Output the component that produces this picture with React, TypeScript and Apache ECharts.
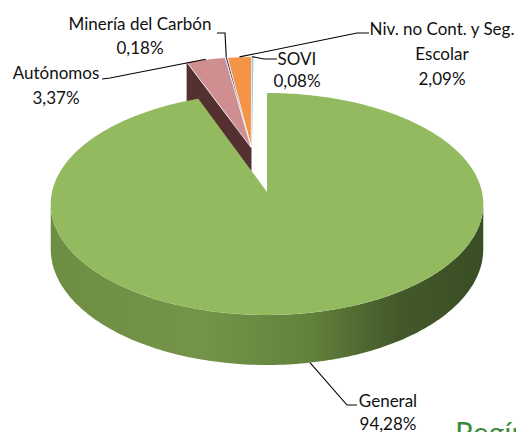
import React, { useEffect, useRef } from "react";
import * as echarts from "echarts";

// ---- data ----
const categories = ["General", "Autónomos", "Minería del Carbón", "Niv. no Cont. y Seg.\nEscolar", "SOVI"];
const values = [94.28, 3.37, 0.18, 2.09, 0.08];

// ---- styling / layout (not data) ----
const topColors = ["#93ba5f", "#cf8e8f", "#26265e", "#f39446", "#e4f1f7"];
const wallColors = ["#6e8e44", "#553030", "#151540", "#b86a2c", "#9cc7da"];
const edgeColors = ["none", "#ffffff", "#ffffff", "#ffffff", "#8cc4dc"];
const explode = [0, 0.43, 0.43, 0.43, 0.43];
const drawOrder = [10, 4, 3, 2, 1];
const labelPos = [[388, 400], [56, 72], [140, 23], [442, 28], [297, 58]];
const lineGap = [23, 25, 24, 25, 22];
const leaderStart = [[357, 405], [102, 79], [217, 33], [369, 33], [277, 59]];
const leaderKnee = [[347, 405], [110, 78], [225, 33], [357, 33], [264, 59]];

const CX = 267, CY = 192, RX = 215, RY = 109.7, P = 0.108, H = 44.6;
const FONT = "Lato";

const total = values.reduce((a, b) => a + b, 0);
const starts: number[] = [];
let acc = 0;
values.forEach((v) => { starts.push((acc / total) * 360); acc += v; });
const ends = values.map((v, i) => starts[i] + (v / total) * 360);

// common explode direction: middle of the exploded group
const exIdx = values.map((_, i) => i).filter((i) => explode[i] > 0);
const groupMid = exIdx.length ? (starts[exIdx[0]] + ends[exIdx[exIdx.length - 1]]) / 2 : 0;

const rad = (d: number) => (d * Math.PI) / 180;
function proj(X: number, Z: number, drop: number) {
  const w = 1 + P * Z;
  return [CX + (RX * X) / w, CY - (RY * Z) / w + drop / w];
}
function fmt(v: number) {
  return v.toFixed(2).replace(".", ",") + "%";
}

export default function App() {
  const ref = useRef<HTMLDivElement>(null);
  useEffect(() => {
    if (!ref.current) return;
    const chart = echarts.init(ref.current, undefined, { renderer: "svg" });

    const renderItem = (params: any, api: any) => {
      const i = params.dataIndex;
      const a0 = starts[i], a1 = ends[i];
      const ox = explode[i] * Math.sin(rad(groupMid));
      const oz = explode[i] * Math.cos(rad(groupMid));
      const pt = (deg: number, drop: number, r = 1) =>
        proj(ox + r * Math.sin(rad(deg)), oz + r * Math.cos(rad(deg)), drop);
      const arc = (from: number, to: number, drop: number) => {
        const n = Math.max(2, Math.ceil((to - from) / 1) + 1);
        const out: number[][] = [];
        for (let k = 0; k < n; k++) out.push(pt(from + ((to - from) * k) / (n - 1), drop));
        return out;
      };
      const base = drawOrder[i] * 10;
      const children: any[] = [];

      // outer wall (front, visible part)
      const vLo = (Math.acos(-P) * 180) / Math.PI;
      const vHi = 360 - vLo;
      const lo = Math.max(a0, vLo), hi = Math.min(a1, vHi);
      if (hi > lo) {
        const topPts = arc(lo, hi, 0);
        const botPts = arc(lo, hi, H).reverse();
        children.push({
          type: "polygon",
          z2: base + 1,
          shape: { points: topPts.concat(botPts) },
          style: {
            fill: i === 0
              ? new echarts.graphic.LinearGradient(0, 0, 1, 0, [
                  { offset: 0, color: "#6e8e44" },
                  { offset: 0.35, color: "#74944a" },
                  { offset: 0.6, color: "#62813c" },
                  { offset: 0.8, color: "#43592a" },
                  { offset: 1, color: "#3a4d24" },
                ])
              : wallColors[i],
          },
        });
      }
      // start radial wall (faces viewer for the back slices)
      if (explode[i] > 0) {
        const c0 = pt(0, 0, 0), c1 = pt(0, H, 0);
        const e0 = pt(a0, 0), e1 = pt(a0, H);
        children.push({
          type: "polygon",
          z2: base + 2,
          shape: { points: [c0, e0, e1, c1] },
          style: { fill: wallColors[i] },
        });
      }
      // top face
      const face = [pt(0, 0, 0)].concat(arc(a0, a1, 0));
      children.push({
        type: "polygon",
        z2: base + 3,
        shape: { points: face },
        style: {
          fill: topColors[i],
          stroke: edgeColors[i],
          lineWidth: i === 0 ? 0 : i === 4 ? 1.5 : 0.8,
        },
      });

      // label + leader
      const v = api.value(0);
      const mid = (a0 + a1) / 2;
      const anchor = i === 0 ? pt(mid, H) : pt(mid, 0);
      children.push({
        type: "polyline",
        z2: 200,
        shape: { points: [leaderStart[i], leaderKnee[i], anchor] },
        style: { stroke: "#000", lineWidth: 1.1, fill: "none" },
      });
      const lines = categories[i].split("\n").concat([fmt(v)]);
      lines.forEach((t, k) => {
        children.push({
          type: "text",
          z2: 201,
          style: {
            text: t,
            x: labelPos[i][0],
            y: labelPos[i][1] + k * lineGap[i],
            fill: "#111111",
            fontSize: 17,
            fontFamily: FONT,
            align: "center",
            verticalAlign: "middle",
            textAlign: "center",
            textVerticalAlign: "middle",
          },
        });
      });
      return { type: "group", children };
    };

    chart.setOption({
      animation: false,
      backgroundColor: "#ffffff",
      graphic: [
        {
          type: "text",
          left: 455,
          top: 417,
          style: { text: "Regímenes", fill: "#3c8c3c", fontSize: 30, fontFamily: FONT },
        },
      ],
      series: [
        {
          type: "custom",
          coordinateSystem: "none",
          renderItem,
          data: values.map((v, i) => ({ name: categories[i], value: [v] })),
        },
      ],
    });
    return () => chart.dispose();
  }, []);
  return (
    <div
      ref={ref}
      style={{ position: "fixed", left: 0, top: 0, width: 516, height: 432 }}
    />
  );
}
